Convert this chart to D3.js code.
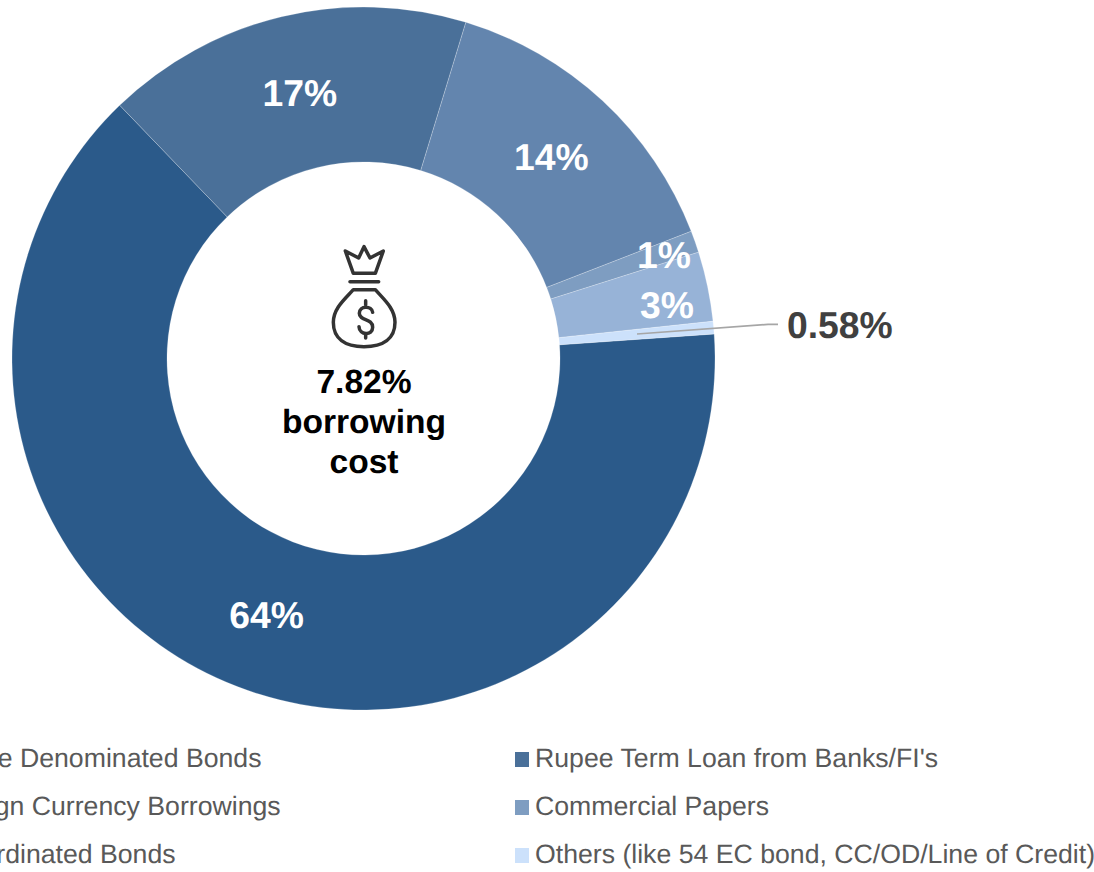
<!DOCTYPE html>
<html>
<head>
<meta charset="utf-8">
<script src="https://cdn.jsdelivr.net/npm/d3@7/dist/d3.min.js"></script>
<style>
html,body{margin:0;padding:0;background:#fff;overflow:hidden}
svg{display:block;font-family:"Liberation Sans",Arial,sans-serif;text-rendering:geometricPrecision}
</style>
</head>
<body>
<svg id="chart" width="1094" height="872"></svg>
<script>
// Borrowing mix by instrument, in percent, clockwise from the right-hand side.
const categories = [
  "Rupee Denominated Bonds",
  "Rupee Term Loan from Banks/FI's",
  "Foreign Currency Borrowings",
  "Commercial Papers",
  "Subordinated Bonds",
  "Others (like 54 EC bond, CC/OD/Line of Credit)"
];
const shares = [63.9, 16.9, 14.4, 1.0, 3.2, 0.58];
const shareLabels = ["64%", "17%", "14%", "1%", "3%", "0.58%"];
const colours = ["#2B5A8A", "#4A7099", "#6385AE", "#7E9DC1", "#97B3D7", "#CCE1FB"];
const centreLines = ["7.82%", "borrowing", "cost"];

const svg = d3.select("#chart");
const cx = 363.5, cy = 358.5, rOuter = 351.5, rInner = 196.5;
const rad = d => d * Math.PI / 180;

const pie = d3.pie().sort(null).startAngle(rad(86)).endAngle(rad(446)).value(d => d);
const arc = d3.arc().innerRadius(rInner).outerRadius(rOuter);
const arcs = pie(shares);

const ring = svg.append("g").attr("transform", `translate(${cx},${cy})`);
ring.selectAll("path").data(arcs).join("path")
  .attr("d", arc)
  .attr("fill", (d, i) => colours[i])
  .attr("stroke", "#fff")
  .attr("stroke-opacity", 0.3)
  .attr("stroke-width", 0.75);

// In-ring labels sit at a radius and angle chosen per slice; the smallest slice uses a leader.
const labelPos = [
  {r: 274, a: 200.7}, {r: 273, a: 346.5}, {r: 275.5, a: 43.0},
  {r: 317.8, a: 71.0}, {r: 308.3, a: 79.9}
];
const labelArc = (r, a) => [r * Math.sin(rad(a)), -r * Math.cos(rad(a))];
ring.selectAll("text.share").data(labelPos).join("text")
  .attr("class", "share")
  .attr("x", d => labelArc(d.r, d.a)[0])
  .attr("y", d => labelArc(d.r, d.a)[1])
  .attr("dy", "0.35em")
  .attr("text-anchor", "middle")
  .attr("fill", "#fff")
  .attr("font-weight", "bold")
  .attr("font-size", 37.3)
  .text((d, i) => shareLabels[i]);

// Leader line and outside label for the smallest slice.
svg.append("path")
  .attr("d", d3.line()([[637, 334], [768, 324.4], [778, 324.4]]))
  .attr("fill", "none")
  .attr("stroke", "#A6A6A6")
  .attr("stroke-width", 1.75);
svg.append("text")
  .attr("x", 787).attr("y", 338)
  .attr("fill", "#404040")
  .attr("font-weight", "bold")
  .attr("font-size", 37.3)
  .text(shareLabels[5]);

// Money-bag icon above the centre caption.
const icon = svg.append("g")
  .attr("transform", "translate(300,230) scale(0.3333)")
  .attr("fill", "none")
  .attr("stroke", "#333333")
  .attr("stroke-width", 10.5)
  .attr("stroke-linecap", "round")
  .attr("stroke-linejoin", "round");
icon.append("path").attr("d", "M136,63 L176,84 L192,50 L210,84 L250,63 L226,130 L160,130 Z");
icon.append("path").attr("d", "M150,155 L236,155");
icon.append("path").attr("d", "M160,179 L226,179 C250,207 285,235 285,277 C285,326 250,350 192,350 C135,350 100,326 100,277 C100,235 135,207 160,179 Z");
icon.append("path").attr("d", "M218,247 C216,226 178,226 178,250 C178,274 218,264 218,292 C218,318 178,316 177,290");
icon.append("path").attr("d", "M197,212 L197,224 M197,312 L197,324");

// Centre caption.
svg.append("g").selectAll("text").data(centreLines).join("text")
  .attr("x", 364)
  .attr("y", (d, i) => 393 + i * 40)
  .attr("text-anchor", "middle")
  .attr("fill", "#000")
  .attr("font-weight", "bold")
  .attr("font-size", 33.6)
  .text(d => d);

// Two-column legend; the left column runs past the page edge.
const legendX = [-66, 535];
const legendY = [758, 806, 854];
const legend = svg.append("g").selectAll("g").data(categories).join("g")
  .attr("transform", (d, i) => `translate(${legendX[i % 2]},${legendY[Math.floor(i / 2)]})`);
legend.append("rect")
  .attr("x", -20).attr("y", -6).attr("width", 14).attr("height", 15)
  .attr("fill", (d, i) => colours[i]);
legend.append("text")
  .attr("y", 9)
  .attr("fill", "#595959")
  .attr("font-size", 26.67)
  .text(d => d);
</script>
</body>
</html>
